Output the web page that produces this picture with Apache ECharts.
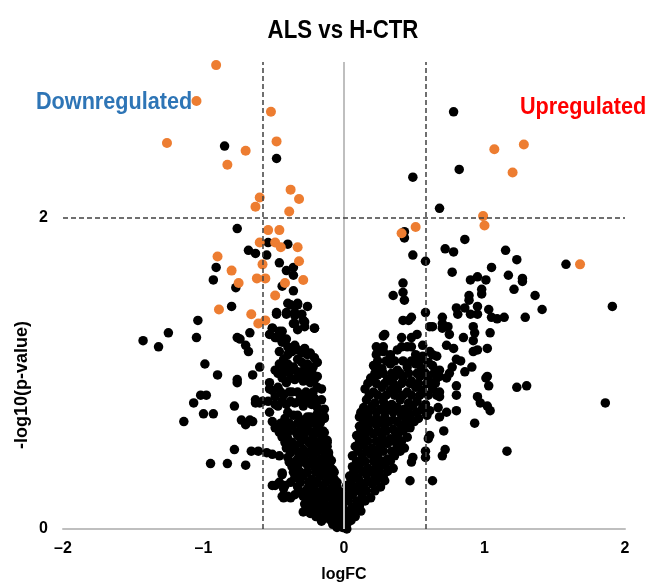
<!DOCTYPE html>
<html><head><meta charset="utf-8">
<script src="https://cdn.jsdelivr.net/npm/echarts@6/dist/echarts.min.js"></script>
<style>html,body{margin:0;padding:0;background:#fff}#c{width:649px;height:588px}</style>
</head><body><div id="c"></div>
<script>
// ---- data (logFC, -log10 p) ----
const xTicks = [-2, -1, 0, 1, 2];
const yTicks = [0, 2];
const fcCut = 0.585;
const pCut = 2;

const orangeDown = [[-0.91,2.98],[-1.05,2.75],[-1.26,2.48],[-0.52,2.68],[-0.48,2.49],[-0.70,2.43],[-0.83,2.34],[-0.38,2.18],[-0.32,2.12],[-0.60,2.13],[-0.63,2.07],[-0.39,2.04],[-0.54,1.92],[-0.46,1.92],[-0.60,1.84],[-0.49,1.84],[-0.45,1.81],[-0.33,1.81],[-0.90,1.75],[-0.58,1.70],[-0.32,1.72],[-0.80,1.66],[-0.62,1.61],[-0.56,1.61],[-0.75,1.58],[-0.42,1.58],[-0.29,1.60],[-0.49,1.50],[-0.89,1.41],[-0.66,1.38],[-0.61,1.32],[-0.56,1.34]];
const orangeUp = [[1.07,2.44],[1.28,2.47],[1.20,2.29],[0.99,2.01],[1.00,1.95],[0.51,1.94],[0.41,1.90],[1.68,1.70]];

const blackLeft = [[-0.85,2.46],[-0.48,2.38],[-0.76,1.93],[-0.68,1.79],[-0.63,1.77],[-0.55,1.76],[-0.54,1.84],[-0.40,1.83],[-0.46,1.71],[-0.41,1.66],[-0.36,1.68],[-0.36,1.63],[-0.91,1.68],[-0.93,1.60],[-0.77,1.55],[-0.44,1.56],[-0.36,1.53],[-0.80,1.43],[-0.38,1.44],[-0.33,1.44],[-0.26,1.43],[-0.48,1.38],[-0.41,1.38],[-0.35,1.37],[-0.29,1.34],[-0.35,1.32],[-0.21,1.29],[-0.51,1.29],[-0.44,1.27],[-0.33,1.28],[-0.28,1.30],[-1.04,1.34],[-1.25,1.26],[-1.43,1.21],[-1.32,1.17],[-1.05,1.23],[-0.76,1.23],[-0.74,1.22],[-0.67,1.26],[-0.53,1.25],[-0.48,1.23],[-0.43,1.22],[-0.70,1.18],[-0.68,1.14],[-0.99,1.06],[-0.90,0.99],[-0.76,0.96],[-0.60,1.04],[-0.65,0.99],[-0.76,0.94],[-1.02,0.86],[-0.98,0.86],[-1.07,0.81],[-0.78,0.79],[-1.00,0.74],[-0.93,0.74],[-1.14,0.69],[-0.73,0.70],[-0.70,0.67],[-0.65,0.69],[-0.67,0.70],[-0.63,0.81],[-0.58,0.82],[-0.78,0.51],[-0.66,0.50],[-0.61,0.50],[-0.55,0.49],[-0.95,0.42],[-0.83,0.42],[-0.70,0.41],[-0.51,0.28],[-0.43,0.26],[-0.43,0.20],[-0.38,0.20],[-0.51,0.48],[-0.46,0.47],[-0.53,0.94],[-0.51,0.89],[-0.54,0.82],[-0.49,0.80],[-0.51,0.69],[-0.49,0.65],[-0.44,0.36]];

const blackRight = [[0.78,2.68],[0.82,2.31],[0.49,2.26],[0.68,2.06],[0.43,1.91],[0.43,1.87],[0.86,1.86],[0.72,1.80],[0.78,1.78],[0.49,1.76],[1.15,1.79],[1.23,1.73],[0.58,1.72],[1.05,1.68],[1.58,1.70],[0.77,1.65],[1.17,1.63],[1.27,1.61],[1.27,1.59],[0.90,1.60],[0.95,1.62],[1.01,1.60],[0.42,1.58],[1.21,1.54],[0.98,1.54],[0.98,1.51],[0.42,1.52],[0.35,1.50],[0.43,1.47],[1.36,1.50],[0.89,1.50],[0.89,1.47],[1.91,1.43],[1.41,1.41],[0.80,1.42],[0.86,1.42],[0.95,1.43],[1.03,1.41],[0.58,1.39],[0.81,1.38],[0.90,1.38],[0.95,1.38],[1.05,1.36],[1.09,1.35],[1.14,1.36],[1.29,1.36],[0.42,1.34],[0.48,1.36],[0.46,1.34],[0.70,1.36],[0.70,1.32],[0.61,1.30],[0.63,1.30],[0.70,1.29],[0.74,1.30],[0.92,1.30],[0.93,1.26],[0.75,1.25],[1.04,1.26],[0.29,1.25],[0.28,1.24],[0.41,1.23],[0.48,1.23],[0.52,1.25],[0.85,1.23],[0.56,1.18],[0.28,1.17],[0.73,1.18],[0.78,1.16],[0.92,1.21],[0.92,1.14],[0.95,1.15],[1.02,1.16],[0.23,1.12],[0.33,1.12],[0.41,1.17],[0.48,1.17],[0.63,1.12],[0.66,1.11],[0.80,1.09],[0.83,1.08],[0.53,1.09],[0.22,1.04],[0.60,1.07],[0.91,1.04],[0.77,1.04],[0.66,1.00],[0.68,0.98],[1.02,0.98],[0.54,1.00],
[1.01,0.97],[1.03,0.92],[1.23,0.91],[1.30,0.92],[1.86,0.81],[0.95,0.85],[0.97,0.81],[1.02,0.79],[1.04,0.76],[0.80,0.86],[0.80,0.92],[0.80,0.76],[0.93,0.68],[0.71,0.63],[1.16,0.50],[0.72,0.51],[0.70,0.47],[0.58,0.50],[0.58,0.46],[0.63,0.31],[0.47,0.31],[0.61,0.60],[0.60,0.58],[0.49,0.46],[0.48,0.43],[0.68,0.72],[0.73,0.75],[0.66,0.86],[0.68,0.85],[0.73,0.97],[0.75,1.00],[0.54,1.01],[0.86,1.01]];

const coreLeft = [[-0.40,1.45],[-0.33,1.45],[-0.48,1.39],[-0.41,1.39],[-0.35,1.39],[-0.30,1.38],[-0.36,1.32],[-0.28,1.33],[-0.21,1.29],
[-0.51,1.29],[-0.46,1.27],[-0.49,1.23],[-0.44,1.20],[-0.41,1.22],[-0.40,1.17],[-0.35,1.18],[-0.33,1.15],[-0.28,1.16],[-0.24,1.13],[-0.21,1.10],[-0.40,1.12],[-0.43,1.09],[-0.46,1.06],[-0.40,1.06],[-0.33,1.09],[-0.30,1.07],[-0.26,1.06],[-0.19,1.07],[-0.49,1.02],[-0.47,1.00],[-0.42,1.01],[-0.37,1.02],[-0.33,1.01],[-0.28,0.99],[-0.23,1.01],[-0.19,0.98],
[-0.53,0.90],[-0.47,0.91],[-0.41,0.94],[-0.35,0.96],[-0.29,0.95],[-0.24,0.94],[-0.19,0.91],[-0.16,0.90],
[-0.49,0.85],[-0.43,0.86],[-0.37,0.88],[-0.31,0.85],[-0.26,0.86],[-0.21,0.84],[-0.16,0.83],
[-0.47,0.79],[-0.41,0.80],[-0.35,0.81],[-0.29,0.79],[-0.23,0.80],[-0.19,0.78],[-0.14,0.77],
[-0.53,0.75],[-0.40,0.75],[-0.33,0.73],[-0.26,0.72],[-0.19,0.70],[-0.14,0.72],[-0.60,0.81],[-0.63,0.83],
[-0.42,0.71],[-0.36,0.73],[-0.30,0.70],[-0.24,0.72],[-0.19,0.74],[-0.14,0.71],
[-0.43,0.65],[-0.37,0.66],[-0.31,0.64],[-0.26,0.66],[-0.19,0.65],[-0.15,0.63],
[-0.44,0.59],[-0.40,0.58],[-0.33,0.60],[-0.28,0.58],[-0.22,0.59],[-0.16,0.60],[-0.12,0.57],
[-0.41,0.52],[-0.35,0.53],[-0.29,0.51],[-0.23,0.53],[-0.17,0.52],[-0.13,0.51],[-0.12,0.53],
[-0.40,0.46],[-0.33,0.45],[-0.28,0.47],[-0.22,0.46],[-0.16,0.45],[-0.11,0.47],[-0.09,0.44],
[-0.37,0.40],[-0.33,0.39],[-0.26,0.41],[-0.21,0.40],[-0.15,0.39],[-0.10,0.40],[-0.08,0.38],
[-0.35,0.33],[-0.29,0.34],[-0.23,0.32],[-0.17,0.34],[-0.11,0.33],[-0.07,0.32],[-0.44,0.35],[-0.46,0.30],[-0.49,0.28],[-0.42,0.28],
[-0.33,0.27],[-0.26,0.26],[-0.21,0.28],[-0.15,0.27],[-0.09,0.26],[-0.05,0.27],
[-0.29,0.21],[-0.23,0.22],[-0.17,0.20],[-0.11,0.21],[-0.05,0.20],[-0.44,0.21],[-0.40,0.21],[-0.35,0.22],
[-0.28,0.16],[-0.22,0.15],[-0.16,0.16],[-0.10,0.15],[-0.04,0.16],
[-0.29,0.11],[-0.24,0.10],[-0.19,0.11],[-0.12,0.10],[-0.06,0.11],[-0.01,0.10],
[-0.16,0.05],[-0.10,0.06],[-0.04,0.05],[-0.01,0.04],
[-0.05,0.01],[-0.01,0.01],[0.02,0.00]];

const coreLeftFill = [[-0.46,1.14],[-0.37,1.14],[-0.30,1.13],[-0.26,1.12],
[-0.43,1.04],[-0.36,1.04],[-0.28,1.03],[-0.22,1.04],
[-0.44,0.97],[-0.38,0.97],[-0.31,0.97],[-0.25,0.97],[-0.21,0.96],
[-0.45,0.88],[-0.39,0.88],[-0.33,0.88],[-0.27,0.88],[-0.22,0.88],
[-0.44,0.82],[-0.38,0.82],[-0.32,0.82],[-0.26,0.82],[-0.20,0.82],
[-0.45,0.68],[-0.39,0.68],[-0.33,0.68],[-0.28,0.68],[-0.22,0.68],[-0.17,0.68],
[-0.46,0.62],[-0.40,0.62],[-0.34,0.62],[-0.28,0.62],[-0.23,0.62],[-0.18,0.62],[-0.14,0.62],
[-0.42,0.555],[-0.37,0.555],[-0.31,0.555],[-0.25,0.555],[-0.19,0.555],[-0.14,0.555],[-0.12,0.555],
[-0.38,0.49],[-0.32,0.49],[-0.26,0.49],[-0.20,0.49],[-0.14,0.49],[-0.11,0.49],
[-0.39,0.43],[-0.35,0.43],[-0.30,0.43],[-0.24,0.43],[-0.18,0.43],[-0.12,0.43],[-0.10,0.43],
[-0.36,0.365],[-0.31,0.365],[-0.26,0.365],[-0.20,0.365],[-0.14,0.365],[-0.09,0.365],[-0.07,0.365],
[-0.38,0.30],[-0.31,0.30],[-0.25,0.30],[-0.19,0.30],[-0.13,0.30],[-0.07,0.30],[-0.05,0.30],
[-0.31,0.24],[-0.26,0.24],[-0.20,0.24],[-0.14,0.24],[-0.08,0.24],[-0.03,0.24],
[-0.25,0.185],[-0.20,0.185],[-0.14,0.185],[-0.08,0.185],[-0.02,0.185],
[-0.26,0.13],[-0.21,0.13],[-0.15,0.13],[-0.09,0.13],[-0.03,0.13],
[-0.20,0.08],[-0.14,0.08],[-0.07,0.08],[-0.03,0.08],
[-0.08,0.03],[-0.03,0.03]];

const coreRight = [[0.23,1.17],[0.28,1.14],[0.33,1.11],[0.38,1.15],[0.45,1.17],[0.51,1.12],[0.56,1.11],[0.61,1.14],
[0.21,1.05],[0.27,1.03],[0.33,1.06],[0.38,1.02],[0.45,1.04],[0.51,1.06],[0.56,1.03],[0.63,1.05],[0.68,1.02],
[0.19,0.97],[0.24,0.99],[0.31,0.96],[0.36,0.98],[0.42,0.97],[0.48,0.95],[0.54,0.98],[0.60,0.96],[0.66,0.97],
[0.15,0.90],[0.21,0.88],[0.27,0.91],[0.33,0.89],[0.38,0.90],[0.45,0.88],[0.51,0.91],[0.56,0.89],[0.63,0.90],[0.68,0.88],
[0.16,0.83],[0.22,0.81],[0.28,0.82],[0.34,0.80],[0.40,0.83],[0.46,0.81],[0.52,0.82],[0.58,0.80],
[0.14,0.78],[0.20,0.79],[0.26,0.77],[0.31,0.79],[0.38,0.78],[0.43,0.77],[0.49,0.79],[0.56,0.78],[0.61,0.76],[0.67,0.78],
[0.11,0.72],[0.17,0.73],[0.23,0.71],[0.29,0.72],[0.35,0.70],[0.41,0.73],[0.47,0.72],[0.53,0.71],[0.59,0.73],
[0.11,0.66],[0.17,0.65],[0.23,0.67],[0.29,0.66],[0.35,0.64],[0.41,0.66],[0.47,0.65],
[0.09,0.60],[0.15,0.59],[0.21,0.61],[0.27,0.60],[0.33,0.58],[0.38,0.60],[0.45,0.59],
[0.08,0.53],[0.14,0.54],[0.20,0.52],[0.26,0.53],[0.31,0.55],[0.38,0.53],[0.43,0.52],
[0.06,0.47],[0.13,0.46],[0.19,0.48],[0.24,0.47],[0.31,0.45],[0.36,0.47],
[0.06,0.40],[0.11,0.41],[0.17,0.39],[0.23,0.40],[0.29,0.41],[0.35,0.39],
[0.04,0.34],[0.10,0.33],[0.16,0.35],[0.22,0.34],[0.28,0.33],
[0.02,0.28],[0.08,0.27],[0.14,0.28],[0.20,0.29],[0.26,0.27],
[0.01,0.21],[0.06,0.22],[0.13,0.21],[0.19,0.20],
[-0.01,0.15],[0.06,0.14],[0.11,0.15],
[-0.01,0.08],[0.03,0.08],[0.08,0.08],
[-0.03,0.03],[0.02,0.03]];

const coreRightFill = [[0.24,1.08],[0.30,1.08],[0.36,1.08],[0.42,1.08],[0.48,1.08],[0.54,1.08],
[0.22,1.00],[0.28,1.00],[0.34,1.00],[0.40,1.00],[0.46,1.00],[0.52,1.00],[0.58,1.00],[0.64,1.00],
[0.17,0.935],[0.23,0.935],[0.29,0.935],[0.35,0.935],[0.41,0.935],[0.47,0.935],[0.53,0.935],[0.59,0.935],[0.65,0.935],
[0.18,0.86],[0.24,0.86],[0.30,0.86],[0.36,0.86],[0.42,0.86],[0.48,0.86],[0.54,0.86],[0.60,0.86],
[0.12,0.75],[0.17,0.75],[0.23,0.75],[0.29,0.75],[0.35,0.75],[0.41,0.75],[0.46,0.75],[0.52,0.75],[0.58,0.75],
[0.14,0.69],[0.20,0.69],[0.26,0.69],[0.32,0.69],[0.38,0.69],[0.44,0.69],[0.50,0.69],
[0.12,0.63],[0.18,0.63],[0.24,0.63],[0.30,0.63],[0.36,0.63],[0.42,0.63],
[0.11,0.565],[0.17,0.565],[0.23,0.565],[0.29,0.565],[0.35,0.565],[0.41,0.565],
[0.10,0.50],[0.16,0.50],[0.22,0.50],[0.28,0.50],[0.34,0.50],[0.40,0.50],
[0.09,0.435],[0.15,0.435],[0.21,0.435],[0.27,0.435],[0.33,0.435],
[0.07,0.37],[0.13,0.37],[0.19,0.37],[0.25,0.37],[0.31,0.37],
[0.05,0.31],[0.11,0.31],[0.17,0.31],[0.23,0.31],[0.29,0.31],
[0.04,0.245],[0.10,0.245],[0.16,0.245],[0.22,0.245],
[0.03,0.18],[0.09,0.18],[0.15,0.18],
[0.02,0.115],[0.07,0.115],[0.12,0.115],
[0.00,0.055],[0.05,0.055]];

// ---- chart ----
const chart = echarts.init(document.getElementById('c'), null, {renderer: 'canvas'});
const dash = {color: '#404040', type: [5, 3], width: 1.5};
const sans = '"Liberation Sans", Arial, sans-serif';
function label(text, x, y, size, color, align, sx, rot) {
  return {type: 'text', x: x, y: y, scaleX: sx, rotation: rot || 0,
    style: {text: text, font: 'bold ' + size + 'px ' + sans, fill: color,
      align: align, verticalAlign: 'middle', textAlign: align, textVerticalAlign: 'middle'}};
}
chart.setOption({
  animation: false,
  backgroundColor: '#fff',
  grid: {left: 63, right: 24, top: 62, bottom: 58},
  xAxis: {
    type: 'value', min: xTicks[0], max: xTicks[xTicks.length - 1], interval: 1,
    axisLine: {show: true, onZero: true, lineStyle: {color: '#BFBFBF', width: 2}},
    axisTick: {show: false}, splitLine: {show: false},
    axisLabel: {margin: 12, color: '#000', fontWeight: 'bold', fontSize: 16, fontFamily: sans,
      formatter: v => v < 0 ? '\u2013' + Math.abs(v) : String(v)},
    name: 'logFC', nameLocation: 'middle', nameGap: 38,
    nameTextStyle: {color: '#000', fontWeight: 'bold', fontSize: 16, fontFamily: sans}
  },
  yAxis: {
    type: 'value', min: 0, max: 3, interval: 2,
    axisLine: {show: false}, axisTick: {show: false}, splitLine: {show: false},
    axisLabel: {margin: 15, color: '#000', fontWeight: 'bold', fontSize: 16, fontFamily: sans,
      formatter: v => yTicks.indexOf(v) >= 0 ? String(v) : ''}
  },
  graphic: [
    label('ALS vs H-CTR', 343, 31, 25, '#000', 'center', 0.89),
    label('Downregulated', 36, 103, 23, '#2E75B6', 'left', 0.94),
    label('Upregulated', 520, 108, 23, '#FF0000', 'left', 0.94),
    label('-log10(p-value)', 22, 385, 18, '#000', 'center', 1, Math.PI / 2)
  ],
  series: [
    {type: 'scatter', data: [], z: 1, silent: true,
      markLine: {silent: true, symbol: 'none', label: {show: false},
        data: [
          {xAxis: 0, lineStyle: {color: '#BFBFBF', type: 'solid', width: 2}},
          {xAxis: -fcCut, lineStyle: dash},
          {xAxis: fcCut, lineStyle: dash},
          {yAxis: pCut, lineStyle: dash}
        ]}},
    {type: 'scatter', z: 2, symbolSize: 9.5, itemStyle: {color: '#000', opacity: 1},
      data: [].concat(coreLeft, coreLeftFill, coreRight, coreRightFill, blackLeft, blackRight)},
    {type: 'scatter', z: 3, symbolSize: 10, itemStyle: {color: '#ED7D31', opacity: 1},
      data: [].concat(orangeDown, orangeUp)}
  ]
});
</script>
</body></html>
